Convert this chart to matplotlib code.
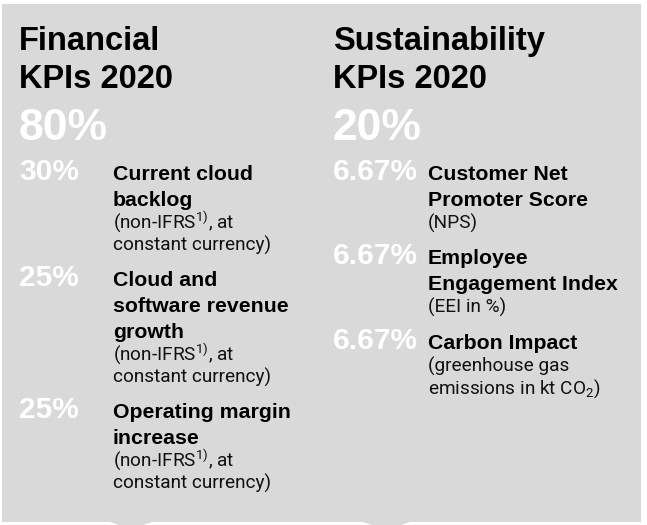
import matplotlib
matplotlib.use("Agg")
import matplotlib.pyplot as plt
from matplotlib.patches import Polygon, Rectangle

plt.rcParams["mathtext.fontset"] = "custom"
plt.rcParams["mathtext.rm"] = "Roboto:weight=regular"
plt.rcParams["mathtext.it"] = "Roboto:weight=regular"

# Content
section_titles = ["Financial\nKPIs 2020", "Sustainability\nKPIs 2020"]
section_totals = ["80%", "20%"]

fin_weights = ["30%", "25%", "25%"]
fin_titles = [
    ["Current cloud", "backlog"],
    ["Cloud and", "software revenue", "growth"],
    ["Operating margin", "increase"],
]
fin_notes = [
    ["(non-IFRS$^{\\mathrm{1)}}$, at", "constant currency)"],
    ["(non-IFRS$^{\\mathrm{1)}}$, at", "constant currency)"],
    ["(non-IFRS$^{\\mathrm{1)}}$, at", "constant currency)"],
]

sus_weights = ["6.67%", "6.67%", "6.67%"]
sus_titles = [
    ["Customer Net", "Promoter Score"],
    ["Employee", "Engagement Index"],
    ["Carbon Impact"],
]
sus_notes = [
    ["(NPS)"],
    ["(EEI in %)"],
    ["(greenhouse gas", "emissions in kt CO$_\\mathrm{2}$)"],
]

BG = "#d9d9d9"
BOLD_FONT = "Liberation Sans"
LIGHT_FONT = "Roboto"

W, H = 647, 525
fig = plt.figure(figsize=(W / 100, H / 100), dpi=100)
ax = fig.add_axes([0, 0, 1, 1])
ax.set_xlim(0, W)
ax.set_ylim(H, 0)
ax.axis("off")

# grey panel with two small tabs at the bottom
ax.add_patch(Rectangle((2, 4), 639, 517.5, facecolor=BG, edgecolor="none"))
for xl, xr in [(107, 155), (360, 413)]:
    ax.add_patch(Polygon([(xl, 521), (xr, 521), (xr - 12, 525), (xl + 12, 525)],
                         closed=True, facecolor=BG, edgecolor="none"))

TITLE_STEP = 25.5
TITLE_TO_NOTE = 23
NOTE_STEP = 22
ITEM_GAP = 36


def draw_section(x0, x_label, title, total, weights, titles, notes):
    for k, line in enumerate(title.split("\n")):
        ax.text(x0, 50 + 38 * k, line, fontsize=23.5, fontweight="bold",
                family=BOLD_FONT, va="baseline", ha="left", color="black")
    ax.text(x0, 140, total, fontsize=32, fontweight="bold",
            family=BOLD_FONT, va="baseline", ha="left", color="white")
    y = 180
    for w, tl, nl in zip(weights, titles, notes):
        ax.text(x0, y, w, fontsize=21.5, fontweight="bold", family=BOLD_FONT,
                va="baseline", ha="left", color="white")
        for i, line in enumerate(tl):
            if i:
                y += TITLE_STEP
            ax.text(x_label, y, line, fontsize=15.3, fontweight="bold",
                    family=BOLD_FONT, va="baseline", ha="left", color="black")
        for i, line in enumerate(nl):
            y += TITLE_TO_NOTE if i == 0 else NOTE_STEP
            ax.text(x_label, y, line, fontsize=13.7, fontweight="regular",
                    family=LIGHT_FONT, va="baseline", ha="left", color="#111111")
        y += ITEM_GAP


draw_section(19, 113, section_titles[0], section_totals[0],
             fin_weights, fin_titles, fin_notes)
draw_section(333, 428, section_titles[1], section_totals[1],
             sus_weights, sus_titles, sus_notes)

fig.savefig("out.png", dpi=100, facecolor="white")
